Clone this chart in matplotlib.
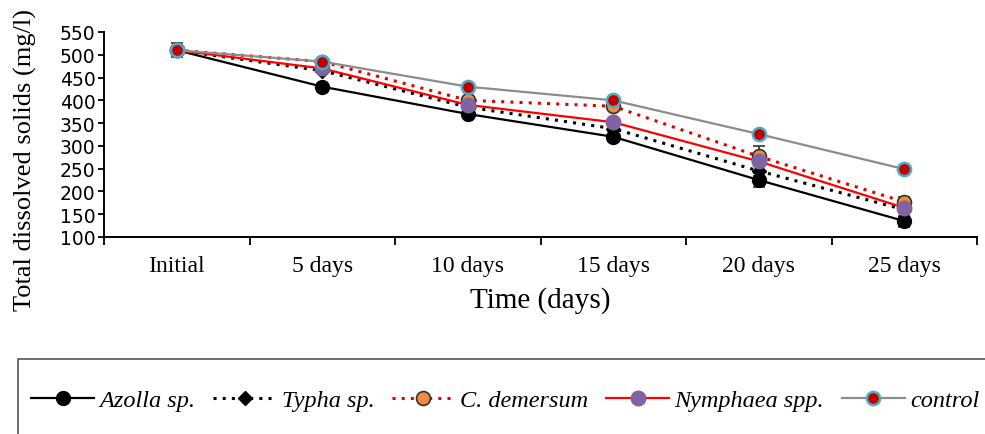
import matplotlib.pyplot as plt
import matplotlib.patches as mpatches
import numpy as np

categories = ["Initial", "5 days", "10 days", "15 days", "20 days", "25 days"]

azolla = [510, 430, 370, 320, 225, 135]
typha = [510, 465, 385, 338, 245, 160]
demersum = [510, 485, 400, 387, 277, 177]
nymphaea = [510, 470, 390, 352, 266, 164]
control = [510, 485, 430, 400, 326, 249]

azolla_err = [15, 6, 6, 6, 15, 12]
typha_err = [10, 6, 6, 6, 10, 8]
demersum_err = [10, 6, 8, 8, 22, 10]
nymphaea_err = [10, 10, 6, 6, 8, 8]
control_err = [5, 5, 5, 5, 5, 5]

series = [
    ("Azolla sp.", azolla, azolla_err,
     dict(color="black", ls="-", lw=1.6, marker="o", ms=10, mfc="black", mec="black")),
    ("Typha sp.", typha, typha_err,
     dict(color="black", ls=(0, (1, 2)), lw=2.2, marker="D", ms=7, mfc="black", mec="black")),
    ("C. demersum", demersum, demersum_err,
     dict(color="#e00000", ls=(0, (1, 2)), lw=2.2, marker="o", ms=10, mfc="#f08a3c", mec="#333333", mew=1.2)),
    ("Nymphaea spp.", nymphaea, nymphaea_err,
     dict(color="#ff0000", ls="-", lw=1.6, marker="o", ms=10.5, mfc="#8064a2", mec="#8064a2")),
    ("control", control, control_err,
     dict(color="#8c8c8c", ls="-", lw=1.6, marker="o", ms=9.5, mfc="#c00000", mec="#4bacc6", mew=1.8)),
]

fig = plt.figure(figsize=(9.85, 4.35), dpi=100)
ax = fig.add_axes([104 / 985, 1 - 238 / 435, (977 - 104) / 985, (238 - 33) / 435])

x = np.arange(len(categories))
handles = []
for name, vals, err, style in series:
    ax.errorbar(x, vals, yerr=err, fmt="none", ecolor="#333333", elinewidth=1.2,
                capsize=4, capthick=1.2, zorder=2)
    h, = ax.plot(x, vals, label=name, zorder=3, **style)
    handles.append(h)

ax.set_xlim(-0.5, 5.5)
ax.set_ylim(100, 550)
ax.set_yticks(np.arange(100, 551, 50))
ax.set_xticks(np.arange(-0.5, 5.6, 1))
ax.set_xticklabels([])
ax.set_xticks(x, minor=True)
ax.set_xticklabels(categories, minor=True, fontsize=17, family="Liberation Serif")
ax.tick_params(axis="x", which="major", length=6, width=1.3, direction="out")
ax.tick_params(axis="x", which="minor", length=0, pad=13)
ax.tick_params(axis="y", length=4, width=1.3, direction="out", labelsize=13.5, pad=2)
for lab in ax.get_yticklabels():
    lab.set_family("DejaVu Sans")
for s in ["top", "right"]:
    ax.spines[s].set_visible(False)
for s in ["left", "bottom"]:
    ax.spines[s].set_linewidth(1.4)

ax.set_xlabel("Time (days)", fontsize=21, family="Liberation Serif", labelpad=7)
fig.text(25 / 985, 1 - 160 / 435, "Total dissolved solids (mg/l)", rotation=90,
         ha="center", va="center", fontsize=19, family="Liberation Serif")

# legend frame runs off the right and bottom edges of the picture
fig.patches.append(mpatches.Rectangle((18 / 985, -0.1), 1.0, 1 - 360 / 435 + 0.1,
                                      transform=fig.transFigure, fill=False,
                                      edgecolor="#555555", lw=1.2))
fig.legend(handles=handles, loc="center left", bbox_to_anchor=(31 / 985, 1 - 401 / 435),
           ncol=5, frameon=False, handlelength=2.6, handletextpad=0.22, columnspacing=0.72,
           prop=dict(family="Liberation Serif", style="italic", size=17.5), borderaxespad=0,
           borderpad=0)

fig.savefig("out.png", dpi=100)
